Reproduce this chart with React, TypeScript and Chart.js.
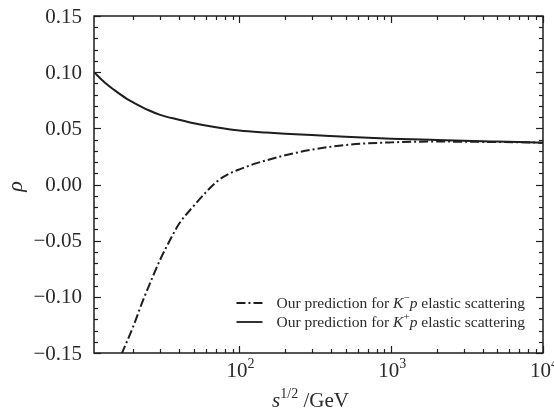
import React, { useEffect, useRef } from "react";
import { Chart, registerables } from "chart.js";

Chart.register(...registerables);

// ---- data ----
const kPlusX = [11, 13, 15, 18, 20, 25, 30, 40, 50, 70, 100, 150, 200, 300, 500, 1000, 2000, 5000, 10000];
const kPlusY = [0.1, 0.0905, 0.084, 0.0765, 0.073, 0.0663, 0.062, 0.0576, 0.0545, 0.0509, 0.048, 0.0462, 0.0452, 0.044, 0.0424, 0.0408, 0.0396, 0.0382, 0.0372];

const kMinusX = [16.7, 20, 23, 25, 30, 35, 40, 50, 60, 70, 80, 90, 100, 130, 150, 200, 300, 500, 1000, 2000, 5000, 10000];
const kMinusY = [-0.151, -0.126, -0.104, -0.092, -0.067, -0.049, -0.035, -0.019, -0.007, 0.002, 0.0075, 0.011, 0.0135, 0.019, 0.0215, 0.026, 0.031, 0.0352, 0.0375, 0.0382, 0.0378, 0.0372];

const xMajorValues = [100, 1000, 10000];
const xMajorExponents = ["2", "3", "4"];
const xMinorMultipliers = [2, 3, 4, 5, 6, 7, 8, 9];
const xDecades = [10, 100, 1000, 10000];
const yTickValues = [-0.15, -0.1, -0.05, 0, 0.05, 0.1, 0.15];
const yMin = -0.15;
const yMax = 0.15;
const yMajorStep = 0.05;
const yMinorStep = 0.01;

const legendEntries = [
  { pre: "Our prediction for ", k: "K", sign: "\u2212", post: " elastic scattering", dash: [9, 3, 2, 3] },
  { pre: "Our prediction for ", k: "K", sign: "+", post: " elastic scattering", dash: [] as number[] },
];

const INK = "#1e1e1e";
const TEXT = "#2a2a2a";
const SERIF = "'Liberation Serif', 'Times New Roman', 'DejaVu Serif', serif";

type Seg = { t: string; italic?: boolean; sup?: boolean; size: number };

function segFont(s: Seg, size: number) {
  return `${s.italic ? "italic " : ""}${s.sup ? Math.round(size * 0.68) : size}px ${SERIF}`;
}

function measureRich(ctx: CanvasRenderingContext2D, segs: Seg[]) {
  let w = 0;
  for (const s of segs) {
    ctx.font = segFont(s, s.size);
    w += ctx.measureText(s.t).width;
  }
  return w;
}

function drawRich(ctx: CanvasRenderingContext2D, segs: Seg[], x: number, y: number) {
  let cx = x;
  ctx.textAlign = "left";
  ctx.textBaseline = "alphabetic";
  for (const s of segs) {
    ctx.font = segFont(s, s.size);
    const dy = s.sup ? -s.size * 0.42 : 0;
    ctx.fillText(s.t, cx, y + dy);
    cx += ctx.measureText(s.t).width;
  }
}

const fmtY = (v: number) => {
  const r = Math.round(v * 100) / 100;
  const s = Math.abs(r).toFixed(2);
  return r < 0 ? "\u2212" + s : s;
};

const decorPlugin = {
  id: "decor",
  afterDraw(chart: any) {
    const { ctx, chartArea: a, scales } = chart;
    const xs = scales.x;
    const ys = scales.y;
    ctx.save();
    ctx.strokeStyle = INK;
    ctx.fillStyle = TEXT;

    // frame
    ctx.lineWidth = 1.5;
    ctx.strokeRect(a.left, a.top, a.right - a.left, a.bottom - a.top);

    const seg = (x1: number, y1: number, x2: number, y2: number) => {
      ctx.beginPath();
      ctx.moveTo(x1, y1);
      ctx.lineTo(x2, y2);
      ctx.stroke();
    };

    // x ticks (inward, bottom and top)
    ctx.lineWidth = 1.2;
    for (const d of xDecades) {
      const vals = [d, ...xMinorMultipliers.map((m) => m * d)];
      vals.forEach((v, i) => {
        if (v < xs.min - 1e-9 || v > xs.max + 1e-9) return;
        const px = Math.round(xs.getPixelForValue(v)) + 0.5;
        const len = i === 0 ? 7 : 4;
        seg(px, a.bottom, px, a.bottom - len);
        seg(px, a.top, px, a.top + len);
      });
    }

    // y ticks (inward, left and right)
    const nMinor = Math.round((yMax - yMin) / yMinorStep);
    const ratio = Math.round(yMajorStep / yMinorStep);
    for (let i = 0; i <= nMinor; i++) {
      const v = yMin + i * yMinorStep;
      const py = Math.round(ys.getPixelForValue(v)) + 0.5;
      const len = i % ratio === 0 ? 7 : 4;
      seg(a.left, py, a.left + len, py);
      seg(a.right, py, a.right - len, py);
    }

    // y tick labels
    ctx.font = `21px ${SERIF}`;
    ctx.textAlign = "right";
    ctx.textBaseline = "middle";
    for (const v of yTickValues) {
      ctx.fillText(fmtY(v), a.left - 12, ys.getPixelForValue(v) + 1);
    }

    // x tick labels 10^n
    xMajorValues.forEach((v, i) => {
      const px = xs.getPixelForValue(v);
      const segs: Seg[] = [
        { t: "10", size: 21 },
        { t: xMajorExponents[i], sup: true, size: 21 },
      ];
      const w = measureRich(ctx, segs);
      drawRich(ctx, segs, px - w / 2 + 1, a.bottom + 24);
    });

    // x title
    {
      const segs: Seg[] = [
        { t: "s", italic: true, size: 21 },
        { t: "1/2", sup: true, size: 21 },
        { t: " /GeV", size: 21 },
      ];
      const w = measureRich(ctx, segs);
      drawRich(ctx, segs, (a.left + a.right) / 2 - 8 - w / 2, a.bottom + 54);
    }

    // y title (rho)
    ctx.save();
    ctx.translate(16, (a.top + a.bottom) / 2 + 2);
    ctx.rotate(-Math.PI / 2);
    ctx.font = `italic 22px ${SERIF}`;
    ctx.textAlign = "center";
    ctx.textBaseline = "middle";
    ctx.fillText("\u03C1", 0, 0);
    ctx.restore();

    // legend
    legendEntries.forEach((e, i) => {
      const fs = 15.5;
      const segs: Seg[] = [
        { t: e.pre, size: fs },
        { t: e.k, italic: true, size: fs },
        { t: e.sign, sup: true, size: fs },
        { t: "p", italic: true, size: fs },
        { t: e.post, size: fs },
      ];
      const w = measureRich(ctx, segs);
      const tx = a.right - 18 - w;
      const cy = a.bottom - 50 + i * 19;
      drawRich(ctx, segs, tx, cy + 5);
      ctx.save();
      ctx.lineWidth = 1.8;
      ctx.setLineDash(e.dash);
      seg(tx - 40, cy, tx - 14, cy);
      ctx.restore();
    });

    ctx.restore();
  },
};

export default function App() {
  const ref = useRef<HTMLCanvasElement | null>(null);

  useEffect(() => {
    if (!ref.current) return;
    const chart = new Chart(ref.current, {
      type: "line",
      data: {
        datasets: [
          {
            label: "K-p",
            data: kMinusX.map((x, i) => ({ x, y: kMinusY[i] })),
            borderColor: INK,
            borderWidth: 2,
            borderDash: legendEntries[0].dash,
            pointRadius: 0,
            cubicInterpolationMode: "monotone",
            fill: false,
          },
          {
            label: "K+p",
            data: kPlusX.map((x, i) => ({ x, y: kPlusY[i] })),
            borderColor: INK,
            borderWidth: 2,
            pointRadius: 0,
            cubicInterpolationMode: "monotone",
            fill: false,
          },
        ],
      },
      options: {
        animation: false,
        responsive: false,
        events: [],
        layout: { padding: { left: 0, right: 11, top: 16, bottom: 0 } },
        plugins: { legend: { display: false }, tooltip: { enabled: false } },
        scales: {
          x: {
            type: "logarithmic",
            min: 11,
            max: 10000,
            grid: { display: false, drawTicks: false },
            border: { display: false },
            ticks: { display: false },
            afterFit: (s: any) => {
              s.height = 67;
            },
          },
          y: {
            type: "linear",
            min: yMin,
            max: yMax,
            grid: { display: false, drawTicks: false },
            border: { display: false },
            ticks: { display: false, stepSize: yMajorStep },
            afterFit: (s: any) => {
              s.width = 94;
            },
          },
        },
      },
      plugins: [decorPlugin],
    } as any);
    return () => chart.destroy();
  }, []);

  return (
    <div style={{ position: "fixed", left: 0, top: 0, width: 554, height: 420, background: "#fff" }}>
      <canvas ref={ref} width={554} height={420} style={{ display: "block" }} />
    </div>
  );
}
